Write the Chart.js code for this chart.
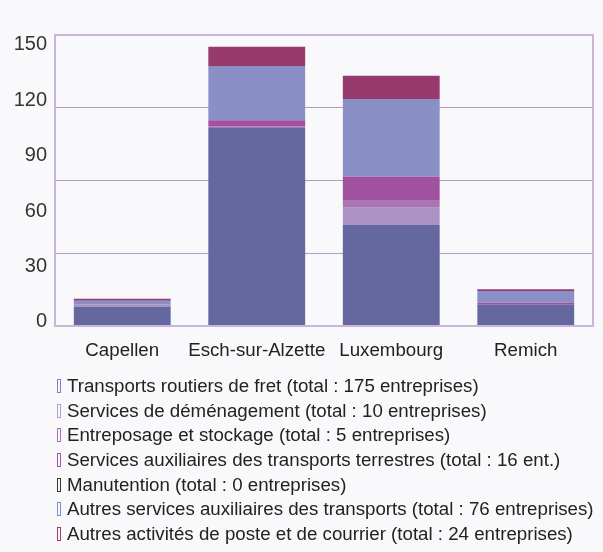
<!DOCTYPE html>
<html>
<head>
<meta charset="utf-8">
<script src="https://cdn.jsdelivr.net/npm/chart.js@4/dist/chart.umd.min.js"></script>
<style>
  html, body { margin: 0; padding: 0; background: #f9f9fb; }
  #wrap { position: relative; width: 603px; height: 552px; }
  #legend { position: absolute; left: 57px; top: 374px; font: 18.7px "Liberation Sans", Arial, sans-serif; color: #222; }
  #legend div { height: 24.7px; line-height: 24.7px; white-space: nowrap; }
  #legend span { display: inline-block; width: 2px; height: 12px; border: 1px solid; margin-right: 6px; vertical-align: -1px; }
</style>
</head>
<body>
<div id="wrap">
  <canvas id="chart" width="603" height="552"></canvas>
  <div id="legend"></div>
</div>
<script>
// cantons and number of companies per activity
var cantons = ['Capellen', 'Esch-sur-Alzette', 'Luxembourg', 'Remich'];
var transports = [10, 102, 52, 11];
var demenagement = [1, 0, 9, 0];
var entreposage = [0, 1, 4, 0];
var servicesTerrestres = [0, 3, 12, 1];
var manutention = [0, 0, 0, 0];
var autresServices = [2, 28, 40, 6];
var posteCourrier = [1, 10, 12, 1];
var yTicks = [0, 30, 60, 90, 120, 150];

var seriesLabels = [
    'Transports routiers de fret (total : 175 entreprises)',
    'Services de déménagement (total : 10 entreprises)',
    'Entreposage et stockage (total : 5 entreprises)',
    'Services auxiliaires des transports terrestres (total : 16 ent.)',
    'Manutention (total : 0 entreprises)',
    'Autres services auxiliaires des transports (total : 76 entreprises)',
    'Autres activités de poste et de courrier (total : 24 entreprises)'
];
var seriesData = [transports, demenagement, entreposage, servicesTerrestres, manutention, autresServices, posteCourrier];
var barColors = ['#64689f', '#ad93c5', '#a877b3', '#a052a0', '#555555', '#8a8fc5', '#983a6d'];
var legendColors = ['#7c7fd0', '#b59ad6', '#a870c0', '#a050b8', '#333333', '#7f8ad8', '#9a3a6e'];

var font = '"Liberation Sans", Arial, sans-serif';

var datasets = seriesData.map(function(d, i) {
    return {
        label: seriesLabels[i],
        data: d,
        backgroundColor: barColors[i],
        borderWidth: 0,
        barPercentage: 0.72,
        categoryPercentage: 1
    };
});

// frame around the plot area
var framePlugin = {
    id: 'frame',
    afterDraw: function(chart) {
        var a = chart.chartArea, ctx = chart.ctx;
        ctx.save();
        ctx.strokeStyle = '#c9b5dc';
        ctx.lineWidth = 2;
        ctx.strokeRect(a.left, a.top, a.right - a.left, a.bottom - a.top);
        ctx.restore();
    }
};

new Chart(document.getElementById('chart').getContext('2d'), {
    type: 'bar',
    data: { labels: cantons, datasets: datasets },
    options: {
        responsive: false,
        animation: false,
        layout: { padding: { left: 12, right: 10, top: 35, bottom: 0 } },
        plugins: { legend: { display: false }, tooltip: { enabled: false } },
        scales: {
            x: {
                stacked: true,
                grid: { display: false, drawTicks: false },
                border: { display: false },
                ticks: { color: '#222', font: { family: font, size: 18.7 }, padding: 14, maxRotation: 0, autoSkip: false },
                afterFit: function(s) { s.height = 226; }
            },
            y: {
                stacked: true,
                min: 0,
                max: 150,
                grid: { color: '#b39ac8', lineWidth: 1, drawTicks: false },
                border: { display: false },
                ticks: { display: false, stepSize: 37.5 },
                afterFit: function(s) { s.width = 0; }
            },
            yLab: {
                position: 'left',
                min: -2.2,
                max: 155.4,
                grid: { display: false, drawTicks: false },
                border: { display: false },
                afterBuildTicks: function(s) { s.ticks = yTicks.map(function(v) { return { value: v }; }); },
                ticks: { color: '#333', font: { family: font, size: 20 }, padding: 8 },
                afterFit: function(s) { s.width = 43; }
            }
        }
    },
    plugins: [framePlugin]
});

// legend as plain text rows
var legend = document.getElementById('legend');
seriesLabels.forEach(function(label, i) {
    var row = document.createElement('div');
    var box = document.createElement('span');
    box.style.borderColor = legendColors[i];
    row.appendChild(box);
    row.appendChild(document.createTextNode(label));
    legend.appendChild(row);
});
</script>
</body>
</html>
